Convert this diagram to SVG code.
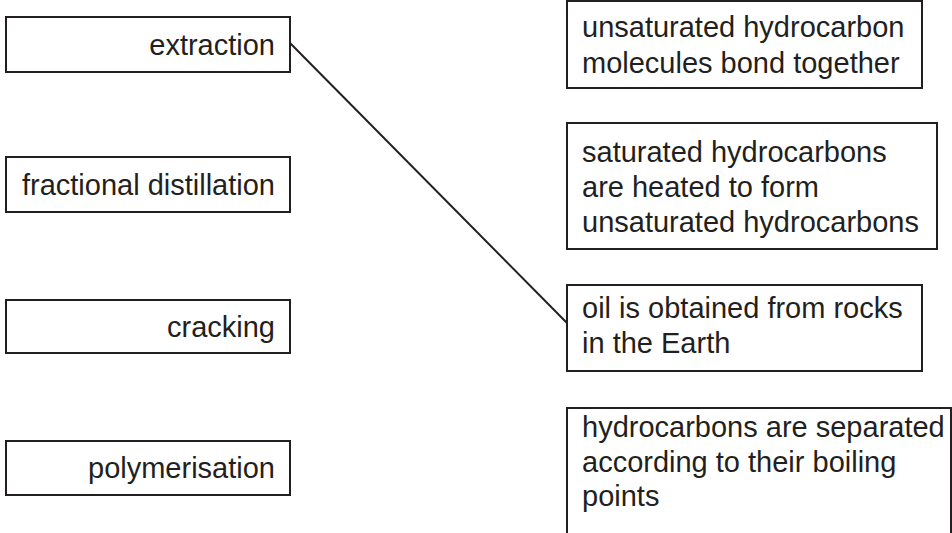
<svg xmlns="http://www.w3.org/2000/svg" width="952" height="533" viewBox="0 0 952 533">
<style>
.box{fill:#fff;stroke:#231f20;stroke-width:2}
.t{font-family:"Liberation Sans",Arial,Helvetica,sans-serif;font-size:29px;fill:#231f20}
.r{text-anchor:end}
.conn{stroke:#231f20;stroke-width:2;fill:none}
</style>
<rect width="952" height="533" fill="#fff"/>
<g id="left-extraction"><rect class="box" x="6" y="17" width="284" height="55"/><text class="t r" x="275" y="55">extraction</text></g>
<g id="left-fractional"><rect class="box" x="6" y="157" width="284" height="55"/><text class="t r" x="275" y="195">fractional distillation</text></g>
<g id="left-cracking"><rect class="box" x="6" y="300" width="284" height="53"/><text class="t r" x="275" y="337">cracking</text></g>
<g id="left-polymerisation"><rect class="box" x="6" y="441" width="284" height="54"/><text class="t r" x="275" y="478">polymerisation</text></g>
<g id="right-1"><rect class="box" x="567" y="1" width="355" height="87"/><text class="t" x="582" y="37">unsaturated hydrocarbon</text><text class="t" x="582" y="73">molecules bond together</text></g>
<g id="right-2"><rect class="box" x="567" y="123" width="370" height="126"/><text class="t" x="582" y="162">saturated hydrocarbons</text><text class="t" x="582" y="197">are heated to form</text><text class="t" x="582" y="232">unsaturated hydrocarbons</text></g>
<g id="right-3"><rect class="box" x="567" y="285" width="355" height="86"/><text class="t" x="582" y="318">oil is obtained from rocks</text><text class="t" x="582" y="353">in the Earth</text></g>
<g id="right-4"><rect class="box" x="567" y="408" width="384" height="140"/><text class="t" x="582" y="437">hydrocarbons are separated</text><text class="t" x="582" y="472">according to their boiling</text><text class="t" x="582" y="506">points</text></g>
<g id="connectors"><line class="conn" x1="290" y1="43" x2="567" y2="323"/></g>
</svg>
